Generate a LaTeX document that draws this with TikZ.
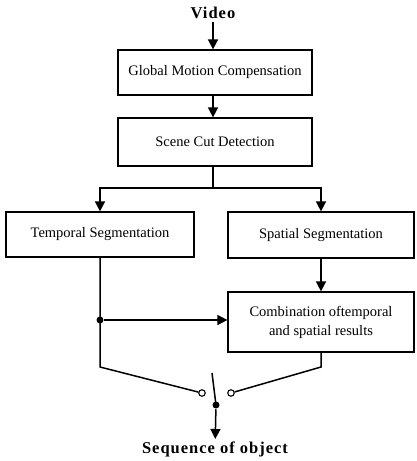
\documentclass[tikz,border=0pt]{standalone}
\usepackage{fontspec}
\setmainfont{Liberation Serif}
\newfontfamily\spacedbf[LetterSpace=6]{Liberation Serif}
\usepackage{tikz}
\usetikzlibrary{arrows.meta}

\begin{document}
\begin{tikzpicture}[x=1pt,y=-1pt,line width=1.5pt,>={Triangle[length=10pt,width=10pt]}]
            \tikzstyle{block}=[draw=black,line width=1.2pt,fill=white,inner sep=0pt,align=center,font=\fontsize{14.5}{19}\selectfont]
            \tikzstyle{terminal}=[inner sep=2pt,font=\spacedbf\bfseries\fontsize{16.5}{18}\selectfont]
            \tikzstyle{contact}=[circle,draw=black,fill=white,line width=1.1pt,minimum size=6.5pt,inner sep=0pt]
            \tikzstyle{junction}=[circle,fill=black,minimum size=7pt,inner sep=0pt]
            \useasboundingbox (0,0) rectangle (416,461);

            \node[terminal] (video) at (213,13) {Video};
            \node[block,minimum width=194pt,minimum height=45pt] (gmc) at (215,72.5) {Global Motion Compensation};
            \node[block,minimum width=194pt,minimum height=48pt] (scd) at (215,142) {Scene Cut Detection};
            \node[block,minimum width=188pt,minimum height=45pt] (temporal) at (100,234.5) {Temporal Segmentation};
            \node[block,minimum width=186pt,minimum height=46pt] (spatial) at (321,235) {Spatial Segmentation};
            \node[block,minimum width=186pt,minimum height=60pt] (comb) at (321,322) {Combination oftemporal\\and spatial results};
            \node[terminal,anchor=north] (seq) at (215,439) {Sequence of object};

            \node[junction] (tap) at (100,320) {};
            \node[contact] (ca) at (202,393) {};
            \node[contact] (cb) at (231,393) {};
            \node[junction] (sw) at (216,405) {};
            \coordinate (split) at (213,188);
            \coordinate (tbend) at (100,367);
            \coordinate (cbend) at (321,367);
            \coordinate (lever) at (212,373);

            \draw[->] (video) -- (video |- gmc.north);
            \draw[->] (video |- gmc.south) -- (video |- scd.north);
            \draw (split |- scd.south) -- (split);
            \foreach \seg in {temporal,spatial}
                \draw[->] (split) -| (\seg);
            \draw[->] (spatial) -- (comb);

            \draw (temporal.south) -- (tbend) -- (ca);
            \draw[->] (tap) -- (tap -| comb.west);
            \draw (comb.south) -- (cbend) -- (cb);
            \draw (sw.center) -- (lever);
            \draw[->] (sw) -- (seq);
\end{tikzpicture}
\end{document}
